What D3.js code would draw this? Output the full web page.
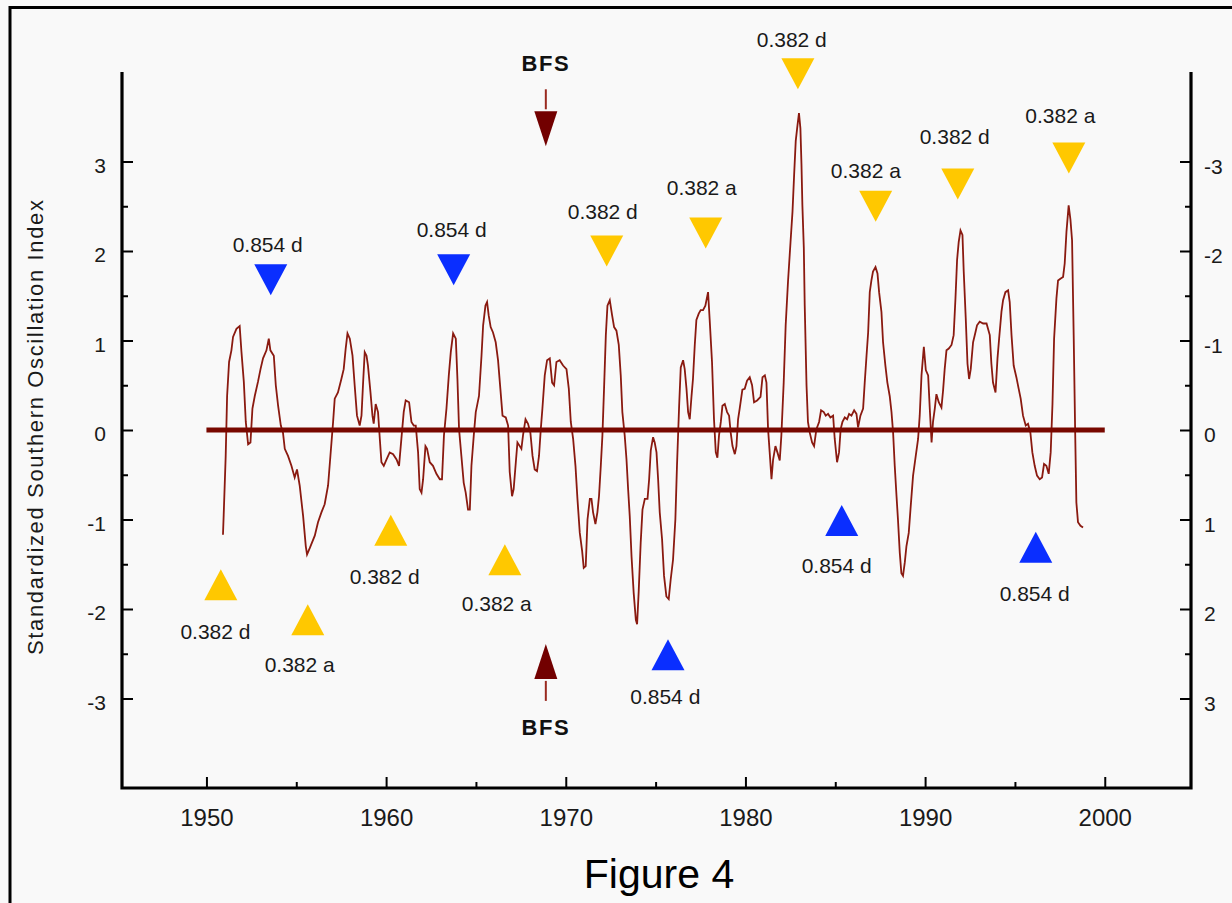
<!DOCTYPE html>
<html>
<head>
<meta charset="utf-8">
<script src="https://cdn.jsdelivr.net/npm/d3@7"></script>
<style>
html, body { margin: 0; padding: 0; background: #f9f9f9; }
svg { display: block; font-family: "Liberation Sans", Arial, sans-serif; }
</style>
</head>
<body>
<svg id="chart" width="1232" height="903"></svg>
<script>
// ---------------- data ----------------
const soiYears = [
1950.92,1950.96,1951.07,1951.15,1951.26,1951.39,1951.48,1951.67,1951.85,1951.95,
1952.08,1952.19,1952.32,1952.45,1952.56,1952.69,1952.87,1953.01,1953.15,1953.34,
1953.47,1953.56,1953.75,1953.86,1953.99,1954.14,1954.26,1954.36,1954.54,1954.73,
1954.91,1955.04,1955.19,1955.38,1955.53,1955.60,1955.75,1956.03,1956.21,1956.40,
1956.58,1956.77,1956.90,1957.05,1957.14,1957.32,1957.51,1957.64,1957.75,1957.85,
1957.98,1958.13,1958.25,1958.38,1958.53,1958.63,1958.72,1958.81,1958.91,1958.99,
1959.13,1959.24,1959.31,1959.42,1959.55,1959.65,1959.74,1959.87,1960.02,1960.20,
1960.39,1960.58,1960.72,1960.85,1960.98,1961.09,1961.28,1961.41,1961.54,1961.65,
1961.78,1961.87,1961.97,1962.06,1962.19,1962.28,1962.43,1962.61,1962.80,1962.99,
1963.11,1963.22,1963.36,1963.49,1963.60,1963.73,1963.88,1963.97,1964.06,1964.19,
1964.32,1964.43,1964.56,1964.66,1964.75,1964.88,1964.99,1965.06,1965.17,1965.31,
1965.40,1965.53,1965.62,1965.71,1965.82,1965.95,1966.10,1966.23,1966.36,1966.48,
1966.66,1966.79,1966.88,1967.01,1967.10,1967.22,1967.31,1967.44,1967.53,1967.62,
1967.76,1967.90,1968.03,1968.15,1968.27,1968.40,1968.51,1968.61,1968.70,1968.83,
1968.96,1969.11,1969.24,1969.35,1969.48,1969.66,1969.85,1970.04,1970.17,1970.28,
1970.41,1970.54,1970.65,1970.78,1970.91,1971.00,1971.11,1971.21,1971.34,1971.43,
1971.52,1971.65,1971.76,1971.85,1971.95,1972.04,1972.13,1972.23,1972.32,1972.45,
1972.58,1972.69,1972.82,1972.95,1973.06,1973.15,1973.28,1973.38,1973.47,1973.56,
1973.66,1973.78,1973.90,1973.97,1974.06,1974.17,1974.27,1974.40,1974.55,1974.64,
1974.73,1974.86,1974.95,1975.05,1975.14,1975.23,1975.36,1975.47,1975.60,1975.73,
1975.84,1975.97,1976.10,1976.19,1976.31,1976.40,1976.53,1976.62,1976.72,1976.81,
1976.90,1977.00,1977.08,1977.18,1977.27,1977.40,1977.51,1977.64,1977.77,1977.92,
1978.01,1978.14,1978.25,1978.35,1978.44,1978.53,1978.63,1978.72,1978.85,1978.98,
1979.09,1979.18,1979.28,1979.41,1979.50,1979.59,1979.68,1979.83,1979.96,1980.09,
1980.24,1980.37,1980.48,1980.65,1980.84,1980.95,1981.08,1981.17,1981.26,1981.35,
1981.45,1981.54,1981.67,1981.78,1981.91,1982.00,1982.13,1982.24,1982.37,1982.51,
1982.62,1982.71,1982.80,1982.90,1982.98,1983.06,1983.12,1983.17,1983.25,1983.30,
1983.40,1983.48,1983.58,1983.71,1983.82,1983.95,1984.10,1984.21,1984.36,1984.47,
1984.60,1984.73,1984.88,1984.97,1985.10,1985.21,1985.30,1985.40,1985.53,1985.66,
1985.77,1985.90,1986.05,1986.18,1986.27,1986.40,1986.55,1986.64,1986.74,1986.83,
1986.92,1987.01,1987.10,1987.24,1987.35,1987.44,1987.57,1987.66,1987.79,1987.90,
1988.03,1988.13,1988.22,1988.31,1988.41,1988.49,1988.59,1988.68,1988.77,1988.87,
1988.96,1989.09,1989.20,1989.33,1989.48,1989.61,1989.70,1989.80,1989.93,1990.04,
1990.17,1990.26,1990.36,1990.44,1990.54,1990.63,1990.76,1990.91,1991.00,1991.09,
1991.19,1991.32,1991.47,1991.59,1991.69,1991.78,1991.87,1991.97,1992.08,1992.15,
1992.26,1992.36,1992.45,1992.54,1992.67,1992.80,1992.89,1993.04,1993.23,1993.42,
1993.60,1993.69,1993.78,1993.92,1994.03,1994.12,1994.25,1994.34,1994.47,1994.62,
1994.71,1994.81,1994.93,1995.08,1995.21,1995.32,1995.45,1995.60,1995.73,1995.86,
1995.97,1996.10,1996.23,1996.38,1996.51,1996.62,1996.75,1996.88,1996.99,1997.09,
1997.18,1997.31,1997.40,1997.53,1997.68,1997.77,1997.87,1997.99,1998.09,1998.18,
1998.27,1998.35,1998.42,1998.51,1998.65,1998.79
];
const soiValues = [
-1.17,-0.95,-0.30,0.38,0.76,0.89,1.04,1.13,1.16,0.87,
0.54,0.09,-0.16,-0.14,0.24,0.38,0.54,0.68,0.80,0.89,
1.02,0.89,0.83,0.50,0.27,0.05,-0.03,-0.21,-0.29,-0.40,
-0.53,-0.44,-0.62,-0.96,-1.30,-1.39,-1.32,-1.18,-1.03,-0.92,
-0.83,-0.62,-0.29,0.09,0.35,0.42,0.57,0.68,0.91,1.08,
1.02,0.83,0.50,0.16,0.05,0.16,0.53,0.87,0.83,0.72,
0.42,0.16,0.07,0.29,0.20,-0.10,-0.36,-0.40,-0.33,-0.25,
-0.27,-0.33,-0.40,-0.10,0.20,0.33,0.31,0.09,0.05,0.05,
-0.25,-0.66,-0.70,-0.55,-0.18,-0.21,-0.36,-0.40,-0.49,-0.55,
-0.55,-0.06,0.24,0.61,0.87,1.08,1.02,0.57,0.01,-0.29,
-0.59,-0.70,-0.89,-0.89,-0.40,-0.06,0.20,0.27,0.38,0.83,
1.17,1.39,1.43,1.28,1.15,1.09,0.98,0.78,0.46,0.16,
0.14,0.05,-0.47,-0.74,-0.66,-0.36,-0.14,-0.18,-0.21,-0.06,
0.12,0.07,-0.03,-0.29,-0.44,-0.46,-0.29,0.01,0.24,0.61,
0.78,0.80,0.53,0.50,0.76,0.78,0.72,0.68,0.46,0.09,
-0.10,-0.40,-0.77,-1.15,-1.35,-1.54,-1.52,-1.00,-0.77,-0.77,
-0.92,-1.05,-0.92,-0.74,-0.40,-0.06,0.46,1.06,1.39,1.45,
1.28,1.15,1.11,0.95,0.61,0.20,-0.06,-0.33,-0.66,-0.96,
-1.41,-1.82,-2.12,-2.17,-1.80,-1.26,-0.89,-0.77,-0.77,-0.55,
-0.23,-0.08,-0.14,-0.25,-0.55,-0.92,-1.22,-1.63,-1.86,-1.89,
-1.67,-1.45,-1.00,-0.40,0.27,0.70,0.78,0.68,0.46,0.20,
0.12,0.38,0.57,0.95,1.23,1.30,1.34,1.34,1.39,1.54,
1.23,0.76,0.12,-0.25,-0.31,-0.06,0.09,0.27,0.29,0.20,
0.16,-0.03,-0.18,-0.27,-0.18,0.12,0.24,0.45,0.46,0.55,
0.59,0.50,0.31,0.33,0.37,0.59,0.61,0.53,0.01,-0.25,
-0.55,-0.33,-0.18,-0.25,-0.34,-0.06,0.53,1.17,1.66,2.10,
2.44,2.85,3.23,3.41,3.54,3.37,2.96,2.51,2.03,1.39,
0.50,0.09,-0.03,-0.14,-0.18,0.01,0.09,0.22,0.20,0.16,
0.18,0.14,0.16,-0.10,-0.36,-0.25,0.01,0.09,0.14,0.12,
0.18,0.16,0.22,0.18,0.03,0.16,0.24,0.53,0.83,1.09,
1.54,1.67,1.77,1.82,1.75,1.54,1.32,0.98,0.72,0.53,
0.38,0.20,-0.03,-0.40,-0.74,-1.00,-1.37,-1.60,-1.63,-1.48,
-1.30,-1.15,-0.85,-0.51,-0.29,-0.10,0.16,0.61,0.93,0.67,
0.61,0.24,-0.14,0.09,0.24,0.40,0.31,0.25,0.44,0.68,
0.89,0.91,0.95,1.06,1.47,1.90,2.10,2.23,2.18,1.77,
1.26,0.74,0.57,0.68,0.98,1.09,1.17,1.21,1.19,1.19,
1.06,0.74,0.53,0.42,0.80,1.02,1.32,1.45,1.54,1.56,
1.43,1.06,0.72,0.59,0.46,0.35,0.16,0.05,0.07,-0.03,
-0.25,-0.40,-0.51,-0.55,-0.53,-0.38,-0.40,-0.49,-0.25,0.29,
1.02,1.47,1.67,1.69,1.71,1.86,2.22,2.51,2.35,2.12,
1.06,0.01,-0.81,-1.03,-1.07,-1.09
];

const baselineYears = [1950, 2000];
const baselineValue = 0;

const xTicks = [1950, 1960, 1970, 1980, 1990, 2000];
const xMinorTicks = [1955, 1965, 1975, 1985, 1995];
const yTicks = [-3, -2, -1, 0, 1, 2, 3];
const yMinorTicks = [-2.5, -1.5, -0.5, 0.5, 1.5, 2.5];

// Fibonacci markers: triangle centre (year, index value), direction, label and label anchor
const markerYears  = [1953.58, 1963.76, 1972.28, 1977.79, 1982.92, 1987.25, 1991.82, 1998.00,
                      1950.80, 1955.64, 1960.26, 1966.61, 1975.69, 1985.36, 1996.16];
const markerValues = [1.68, 1.79, 2.00, 2.20, 3.98, 2.50, 2.75, 3.04,
                      -1.73, -2.12, -1.12, -1.45, -2.51, -1.01, -1.31];
const markerDirections = ["down","down","down","down","down","down","down","down",
                          "up","up","up","up","up","up","up"];
const markerLabels = ["0.854 d","0.854 d","0.382 d","0.382 a","0.382 d","0.382 a","0.382 d","0.382 a",
                      "0.382 d","0.382 a","0.382 d","0.382 a","0.854 d","0.854 d","0.854 d"];
const labelYears  = [1953.41, 1963.65, 1972.06, 1977.57, 1982.58, 1986.70, 1991.65, 1997.53,
                     1950.50, 1955.19, 1959.92, 1966.16, 1975.54, 1985.08, 1996.10];
const labelValues = [1.99, 2.16, 2.36, 2.63, 4.28, 2.82, 3.20, 3.43,
                     -2.34, -2.70, -1.72, -2.02, -3.06, -1.60, -1.91];

const bfsYear = 1968.89;
const bfsTipValues = [3.17, -2.39];
const bfsLabel = "BFS";

const yAxisTitle = "Standardized Southern Oscillation Index";
const figureTitle = "Figure 4";

// ---------------- drawing ----------------
const svg = d3.select("#chart");
const W = 1232, H = 903;
svg.append("rect").attr("width", W).attr("height", H).attr("fill", "#f9f9f9");

// outer frame (top & left)
svg.append("path").attr("d", "M10,903 V7.5 H1232")
  .attr("fill", "none").attr("stroke", "#000").attr("stroke-width", 3);

const x = d3.scaleLinear().domain([1945.3, 2004.8]).range([122, 1191]);
const y = d3.scaleLinear().domain([-4, 4]).range([788, 72]);

const COLORS = { yellow: "#ffc800", blue: "#0a2eff", dark: "#720000" };
const fmt = d => (d < 0 ? "-" + Math.abs(d) : String(Math.abs(d)));

function styleAxis(g, fontSize) {
  g.select(".domain").remove();
  g.selectAll(".tick line").attr("stroke", "#000").attr("stroke-width", 2);
  g.selectAll(".tick text").attr("fill", "#1a1a1a").attr("font-size", fontSize)
    .attr("font-family", "\"Liberation Sans\", Arial, sans-serif");
}

// left axis
const gL = svg.append("g").attr("transform", `translate(${x.range()[0]},0)`)
  .call(d3.axisLeft(y).tickValues(yTicks).tickSize(-11).tickSizeOuter(0).tickPadding(16).tickFormat(fmt));
styleAxis(gL, 21);
gL.selectAll(".tick text").attr("dy", "0.52em");
const gLm = svg.append("g").attr("transform", `translate(${x.range()[0]},0)`)
  .call(d3.axisLeft(y).tickValues(yMinorTicks).tickSize(-6).tickSizeOuter(0).tickFormat(""));
styleAxis(gLm, 21);

// right axis (inverted labels)
const gR = svg.append("g").attr("transform", `translate(${x.range()[1]},0)`)
  .call(d3.axisRight(y).tickValues(yTicks).tickSize(-11).tickSizeOuter(0).tickPadding(13).tickFormat(d => fmt(-d)));
styleAxis(gR, 21);
gR.selectAll(".tick text").attr("dy", "0.55em");
const gRm = svg.append("g").attr("transform", `translate(${x.range()[1]},0)`)
  .call(d3.axisRight(y).tickValues(yMinorTicks).tickSize(-6).tickSizeOuter(0).tickFormat(""));
styleAxis(gRm, 21);

// bottom axis
const gB = svg.append("g").attr("transform", `translate(0,${y.range()[0]})`)
  .call(d3.axisBottom(x).tickValues(xTicks).tickSize(-11).tickSizeOuter(0).tickPadding(21).tickFormat(d => String(d)));
styleAxis(gB, 24);
const gBm = svg.append("g").attr("transform", `translate(0,${y.range()[0]})`)
  .call(d3.axisBottom(x).tickValues(xMinorTicks).tickSize(-6).tickSizeOuter(0).tickFormat(""));
styleAxis(gBm, 24);

// axis frame lines
svg.append("path")
  .attr("d", `M${x.range()[0]},${y.range()[1]} V${y.range()[0]} H${x.range()[1]} V${y.range()[1]}`)
  .attr("fill", "none").attr("stroke", "#000").attr("stroke-width", 3.2).attr("stroke-linejoin", "miter");

// SOI line
const series = d3.zip(soiYears, soiValues);
svg.append("path").datum(series)
  .attr("d", d3.line().x(d => x(d[0])).y(d => y(d[1])))
  .attr("fill", "none").attr("stroke", "#8a1a10").attr("stroke-width", 1.8)
  .attr("stroke-linejoin", "miter");

// thick zero line
svg.append("line")
  .attr("x1", x(baselineYears[0])).attr("x2", x(baselineYears[1]))
  .attr("y1", y(baselineValue)).attr("y2", y(baselineValue))
  .attr("stroke", "#780800").attr("stroke-width", 5);

// triangles
const TW = 16.5, TH = 15.5;
function triPath(cx, cy, dir) {
  if (dir === "down") return `M${cx - TW},${cy - TH} L${cx + TW},${cy - TH} L${cx},${cy + TH} Z`;
  return `M${cx - TW},${cy + TH} L${cx + TW},${cy + TH} L${cx},${cy - TH} Z`;
}
const markers = markerYears.map((yr, i) => ({
  year: yr, value: markerValues[i], dir: markerDirections[i], label: markerLabels[i],
  ly: labelYears[i], lv: labelValues[i]
}));
svg.append("g").selectAll("path").data(markers).join("path")
  .attr("d", d => triPath(x(d.year), y(d.value), d.dir))
  .attr("fill", d => d.label.startsWith("0.854") ? COLORS.blue : COLORS.yellow);

svg.append("g").selectAll("text").data(markers).join("text")
  .attr("x", d => x(d.ly)).attr("y", d => y(d.lv))
  .attr("text-anchor", "middle").attr("font-size", 21).attr("fill", "#1a1a1a")
  .text(d => d.label);

// BFS arrows
const bx = x(bfsYear);
bfsTipValues.forEach(v => {
  const tip = y(v);
  const s = v > 0 ? -1 : 1; // direction from tip toward the tail
  const baseY = tip + s * 35;
  svg.append("line").attr("x1", bx).attr("x2", bx)
    .attr("y1", baseY + s * 2).attr("y2", baseY + s * 22)
    .attr("stroke", "#9a2a20").attr("stroke-width", 2);
  svg.append("path")
    .attr("d", `M${bx - 11.5},${baseY} L${bx + 11.5},${baseY} L${bx},${tip} Z`)
    .attr("fill", COLORS.dark);
  svg.append("text").attr("x", bx).attr("y", v > 0 ? tip - 75 : tip + 91)
    .attr("text-anchor", "middle").attr("font-size", 22).attr("font-weight", "bold")
    .attr("letter-spacing", 1.5).attr("fill", "#111").text(bfsLabel);
});

// y-axis title
svg.append("text")
  .attr("transform", "translate(42.5,427.5) rotate(-90)")
  .attr("text-anchor", "middle").attr("font-size", 22).attr("fill", "#1a1a1a")
  .attr("textLength", 455).attr("lengthAdjust", "spacing")
  .text(yAxisTitle);

// figure title
svg.append("text")
  .attr("x", 659).attr("y", 888)
  .attr("text-anchor", "middle").attr("font-size", 41).attr("fill", "#000")
  .text(figureTitle);
</script>
</body>
</html>
